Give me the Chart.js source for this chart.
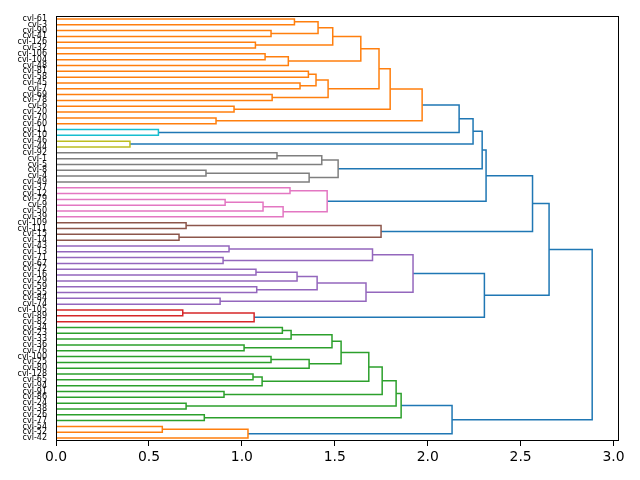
<!DOCTYPE html>
<html>
<head>
<meta charset="utf-8">
<script src="https://cdn.jsdelivr.net/npm/chart.js@4.4.0/dist/chart.umd.min.js"></script>
<style>
  html, body { margin: 0; padding: 0; background: #fff; }
  canvas { display: block; }
</style>
</head>
<body>
<canvas id="dendro" width="640" height="480"></canvas>
<script>
// leaves, top to bottom as they appear on the y axis
var leafLabels = [
  'cvl-61', 'cvl-3', 'cvl-90', 'cvl-41', 'cvl-126', 'cvl-32', 'cvl-106', 'cvl-104', 'cvl-48',
  'cvl-81', 'cvl-58', 'cvl-45', 'cvl-7', 'cvl-69', 'cvl-78', 'cvl-6', 'cvl-20', 'cvl-70', 'cvl-60',
  'cvl-11', 'cvl-10', 'cvl-46', 'cvl-44',
  'cvl-92', 'cvl-1', 'cvl-5', 'cvl-8', 'cvl-4', 'cvl-49',
  'cvl-37', 'cvl-12', 'cvl-79', 'cvl-9', 'cvl-50', 'cvl-39',
  'cvl-109', 'cvl-111', 'cvl-15', 'cvl-14',
  'cvl-43', 'cvl-13', 'cvl-71', 'cvl-67', 'cvl-72', 'cvl-16', 'cvl-29', 'cvl-59', 'cvl-55', 'cvl-84', 'cvl-74',
  'cvl-105', 'cvl-89', 'cvl-82',
  'cvl-34', 'cvl-23', 'cvl-33', 'cvl-36', 'cvl-76', 'cvl-100', 'cvl-25', 'cvl-80', 'cvl-128',
  'cvl-65', 'cvl-94', 'cvl-91', 'cvl-86', 'cvl-24', 'cvl-38', 'cvl-26', 'cvl-77',
  'cvl-54', 'cvl-52', 'cvl-42'
];

// linkage rows [a, b, distance]; ids below leafLabels.length are leaves,
// higher ids point at earlier rows (id = n + row)
var merges = [
  [0, 1, 1.283], [2, 3, 1.157], [73, 74, 1.410], [4, 5, 1.073], [75, 76, 1.489],
  [6, 7, 1.125], [78, 8, 1.250], [77, 79, 1.640], [9, 10, 1.358], [11, 12, 1.313],
  [81, 82, 1.399], [13, 14, 1.163], [83, 84, 1.464], [80, 85, 1.738], [15, 16, 0.958],
  [86, 87, 1.798], [17, 18, 0.861], [88, 89, 1.970],
  [19, 20, 0.551],
  [21, 22, 0.398],
  [23, 24, 1.189], [93, 25, 1.430], [26, 27, 0.807], [95, 28, 1.362], [94, 96, 1.518],
  [29, 30, 1.259], [31, 32, 0.910], [99, 33, 1.114], [100, 34, 1.222], [98, 101, 1.459],
  [35, 36, 0.700], [37, 38, 0.662], [103, 104, 1.749],
  [39, 40, 0.931], [41, 42, 0.899], [106, 107, 1.703], [43, 44, 1.076], [109, 45, 1.297],
  [46, 47, 1.080], [110, 111, 1.405], [48, 49, 0.883], [112, 113, 1.668], [108, 114, 1.921],
  [50, 51, 0.682], [116, 52, 1.066],
  [53, 54, 1.218], [118, 55, 1.265], [56, 57, 1.012], [119, 120, 1.485], [58, 59, 1.157],
  [122, 60, 1.362], [121, 123, 1.534], [61, 62, 1.060], [125, 63, 1.109], [124, 126, 1.683],
  [64, 65, 0.904], [127, 128, 1.755], [66, 67, 0.700], [129, 130, 1.830], [68, 69, 0.798],
  [131, 132, 1.857],
  [70, 71, 0.572], [134, 72, 1.033],
  [90, 91, 2.169], [136, 92, 2.244], [137, 97, 2.293], [138, 102, 2.314], [139, 105, 2.564],
  [115, 117, 2.305], [140, 141, 2.653], [133, 135, 2.131], [142, 143, 2.885]
];

var xTicks = [0, 0.5, 1.0, 1.5, 2.0, 2.5, 3.0];
var palette = ['#ff7f0e', '#2ca02c', '#d62728', '#9467bd', '#8c564b', '#e377c2', '#7f7f7f', '#bcbd22', '#17becf'];
var aboveColor = '#1f77b4';

var n = leafLabels.length;
var pos = {}, hgt = {}, lowest = {}, parent = {};
var maxH = 0;

for (var i = 0; i < n; i++) {
  pos[i] = 5 + 10 * i;
  hgt[i] = 0;
  lowest[i] = i;
}
merges.forEach(function (m, r) {
  var id = n + r;
  pos[id] = (pos[m[0]] + pos[m[1]]) / 2;
  hgt[id] = m[2];
  lowest[id] = Math.max(lowest[m[0]], lowest[m[1]]);
  parent[m[0]] = id;
  parent[m[1]] = id;
  if (m[2] > maxH) maxH = m[2];
});

var threshold = 0.7 * maxH;

// clusters under the threshold get palette colours, counted from the bottom leaf up
var clusterRoots = [];
merges.forEach(function (m, r) {
  var id = n + r;
  if (m[2] < threshold && parent[id] !== undefined && hgt[parent[id]] >= threshold) clusterRoots.push(id);
});
clusterRoots.sort(function (a, b) { return lowest[b] - lowest[a]; });

var colorOf = {};
clusterRoots.forEach(function (id, k) { colorOf[id] = palette[k % palette.length]; });
for (var r = merges.length - 1; r >= 0; r--) {
  var nid = n + r;
  if (colorOf[nid] === undefined) {
    colorOf[nid] = merges[r][2] >= threshold ? aboveColor : colorOf[parent[nid]];
  }
}

var datasets = merges.map(function (m, r) {
  var a = m[0], b = m[1], h = m[2];
  return {
    data: [
      { x: hgt[a], y: pos[a] },
      { x: h, y: pos[a] },
      { x: h, y: pos[b] },
      { x: hgt[b], y: pos[b] }
    ],
    showLine: true,
    borderColor: colorOf[n + r],
    borderWidth: 1.5,
    pointRadius: 0,
    fill: false,
    tension: 0
  };
});

var frame = {
  id: 'frame',
  afterDraw: function (chart) {
    var a = chart.chartArea, ctx = chart.ctx;
    ctx.save();
    ctx.strokeStyle = '#000';
    ctx.lineWidth = 1;
    ctx.strokeRect(Math.round(a.left) + 0.5, Math.round(a.top) + 0.5,
      Math.round(a.right - a.left) - 1, Math.round(a.bottom - a.top) - 1);
    ctx.restore();
  }
};

new Chart(document.getElementById('dendro').getContext('2d'), {
  type: 'scatter',
  data: { datasets: datasets },
  plugins: [frame],
  options: {
    responsive: false,
    animation: false,
    layout: { padding: { top: 16, right: 21, left: 0, bottom: 0 } },
    plugins: { legend: { display: false }, tooltip: { enabled: false } },
    scales: {
      x: {
        type: 'linear',
        min: 0,
        max: 1.05 * maxH,
        afterBuildTicks: function (scale) {
          scale.ticks = xTicks.map(function (v) { return { value: v }; });
        },
        afterFit: function (scale) { scale.height = 39; },
        ticks: {
          color: '#000',
          padding: 3,
          font: { family: 'DejaVu Sans', size: 13.9 },
          callback: function (v) { return Number(v).toFixed(1); }
        },
        grid: { drawOnChartArea: false, tickLength: 5, color: '#000', lineWidth: 1 },
        border: { display: false }
      },
      y: {
        type: 'linear',
        reverse: true,
        min: 0,
        max: 10 * n,
        afterBuildTicks: function (scale) {
          scale.ticks = leafLabels.map(function (l, k) { return { value: 5 + 10 * k }; });
        },
        afterFit: function (scale) { scale.width = 56; },
        ticks: {
          autoSkip: false,
          color: '#000',
          padding: 9,
          font: { family: 'DejaVu Sans', size: 8 },
          callback: function (v, idx) { return leafLabels[idx]; }
        },
        grid: { display: false, drawTicks: false },
        border: { display: false }
      }
    }
  }
});
</script>
</body>
</html>
